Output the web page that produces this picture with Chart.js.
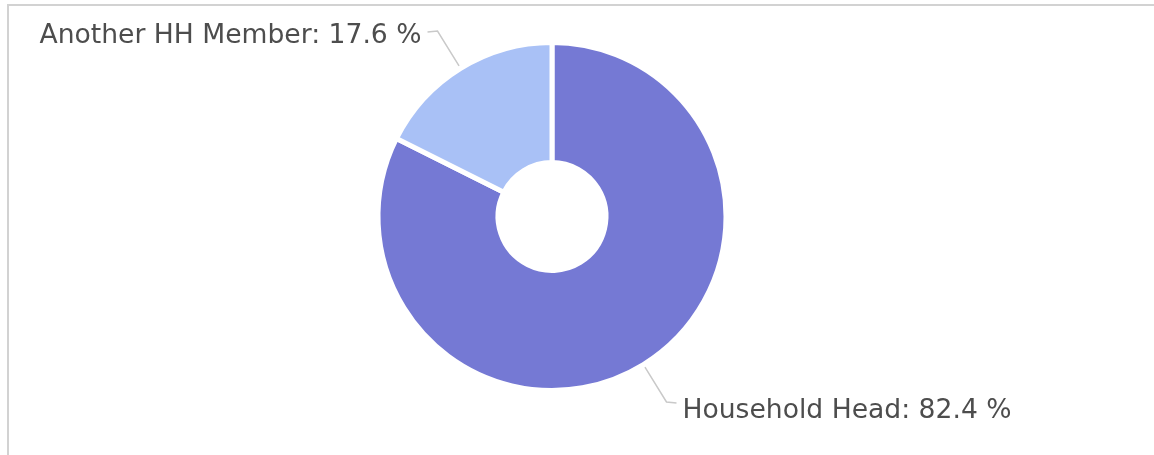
<!DOCTYPE html>
<html>
<head>
<meta charset="utf-8">
<script src="https://cdn.jsdelivr.net/npm/chart.js@4/dist/chart.umd.min.js"></script>
<style>
  html, body { margin: 0; padding: 0; background: #fff; overflow: hidden; }
  #wrap { position: relative; width: 1154px; height: 455px; }
  #frame {
    position: absolute; left: 7px; top: 4px; right: -10px; bottom: -10px;
    border-left: 2px solid #d2d2d2; border-top: 2px solid #d2d2d2;
  }
  canvas { position: absolute; left: 0; top: 0; }
</style>
</head>
<body>
<div id="wrap">
  <div id="frame"></div>
  <canvas id="chart" width="1154" height="455"></canvas>
</div>
<script>
// Who answered the survey: share of respondents (%)
const categories = ['Household Head', 'Another HH Member'];
const shares = [82.4, 17.6];
const sliceColors = ['#7579d4', '#a9c1f6'];

// Draws each slice's leader line and "name: value %" label outside the ring
const calloutPlugin = {
  id: 'callouts',
  afterDatasetsDraw(chart) {
    const ctx = chart.ctx;
    const meta = chart.getDatasetMeta(0);
    meta.data.forEach((arc, i) => {
      const { x, y, startAngle, endAngle, outerRadius } =
        arc.getProps(['x', 'y', 'startAngle', 'endAngle', 'outerRadius'], true);
      const mid = (startAngle + endAngle) / 2;
      const cos = Math.cos(mid), sin = Math.sin(mid);
      const r0 = outerRadius + 3, r1 = outerRadius + 44;
      const x0 = x + cos * r0, y0 = y + sin * r0;
      const x1 = x + cos * r1, y1 = y + sin * r1;
      const right = cos >= 0;
      const x2 = x1 + (right ? 10 : -10);
      ctx.save();
      ctx.strokeStyle = '#c9c9c9';
      ctx.lineWidth = 1.5;
      ctx.beginPath();
      ctx.moveTo(x0, y0);
      ctx.lineTo(x1, y1);
      ctx.lineTo(x2, y1 + 1);
      ctx.stroke();
      ctx.fillStyle = '#4d4d4d';
      ctx.font = '26.6px "DejaVu Sans"';
      ctx.textBaseline = 'middle';
      ctx.textAlign = right ? 'left' : 'right';
      ctx.fillText(categories[i] + ': ' + shares[i] + ' %',
                   x2 + (right ? 6 : -6), y1 + (right ? 9 : 5));
      ctx.restore();
    });
  }
};

new Chart(document.getElementById('chart'), {
  type: 'doughnut',
  data: {
    labels: categories,
    datasets: [{
      data: shares,
      backgroundColor: sliceColors,
      borderColor: '#ffffff',
      borderWidth: 5,
      hoverOffset: 0
    }]
  },
  options: {
    responsive: false,
    animation: false,
    cutout: '31%',
    layout: { padding: { top: 40, bottom: 62, left: 0, right: 50 } },
    plugins: {
      legend: { display: false },
      tooltip: { enabled: false }
    }
  },
  plugins: [calloutPlugin]
});
</script>
</body>
</html>
